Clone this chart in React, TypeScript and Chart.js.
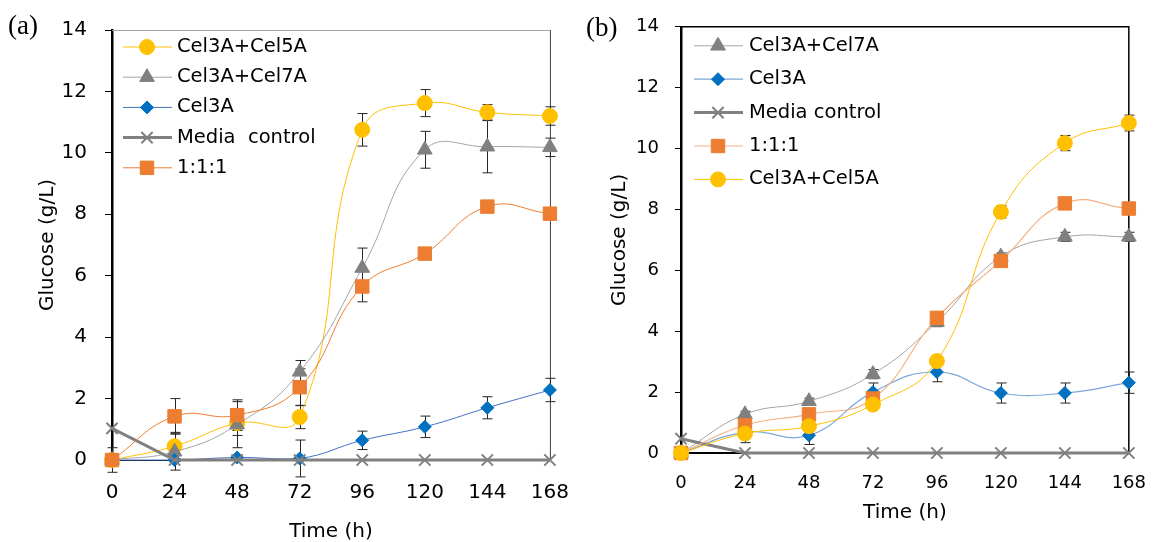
import React, { useEffect, useRef } from "react";
import { Chart, registerables } from "chart.js";
import { drawPoint } from "chart.js/helpers";

Chart.register(...registerables);

const FONT = "'DejaVu Sans', 'Noto Sans', sans-serif";

// ---- shared axes ----
const hours = [0, 24, 48, 72, 96, 120, 144, 168];
const glucoseTicks = [0, 2, 4, 6, 8, 10, 12, 14];

// ---- panel (a) ----
const aCel5A = [0, 0.45, 1.2, 1.4, 10.75, 11.62, 11.32, 11.2];
const aCel5AErr = [0.05, 0.45, 0.4, 0.38, 0.53, 0.44, 0.25, 0.3];
const aCel7A = [0, 0.27, 1.15, 2.87, 6.25, 10.1, 10.2, 10.18];
const aCel7AErr = [0.05, 0.6, 0.75, 0.37, 0.65, 0.6, 0.85, 0.3];
const aCel3A = [0, 0, 0.08, 0.05, 0.64, 1.08, 1.7, 2.28];
const aCel3AErr = [0.02, 0.05, 0.05, 0.6, 0.3, 0.35, 0.36, 0.38];
const aMedia = [1.03, 0, 0, 0, 0, 0, 0, 0];
const aMediaErr = [0, 0, 0, 0, 0, 0, 0, 0];
const aMix = [0, 1.42, 1.46, 2.37, 5.65, 6.72, 8.25, 8.02];
const aMixErr = [0.4, 0.58, 0.5, 0.6, 0.5, 0.1, 0.1, 0.1];

// ---- panel (b) ----
const bCel7A = [0, 1.27, 1.7, 2.59, 4.3, 6.45, 7.1, 7.1];
const bCel7AErr = [0.05, 0.1, 0.1, 0.15, 0.15, 0.12, 0.15, 0.15];
const bCel3A = [0, 0.68, 0.58, 2.0, 2.66, 1.97, 1.97, 2.31];
const bCel3AErr = [0.03, 0.1, 0.3, 0.3, 0.32, 0.33, 0.33, 0.35];
const bMedia = [0.47, 0, 0, 0, 0, 0, 0, 0];
const bMediaErr = [0, 0, 0, 0, 0, 0, 0, 0];
const bMix = [0, 0.91, 1.27, 1.79, 4.44, 6.31, 8.2, 8.03];
const bMixErr = [0.03, 0.1, 0.1, 0.15, 0.1, 0.1, 0.1, 0.1];
const bCel5A = [0, 0.64, 0.88, 1.59, 3.02, 7.92, 10.18, 10.84];
const bCel5AErr = [0.03, 0.3, 0.1, 0.1, 0.1, 0.2, 0.25, 0.26];

type Series = {
  label: string;
  values: number[];
  errors: number[];
  line: string;
  lineWidth: number;
  marker: string;
  style: string;
  radius: number;
  tension: number;
};

const seriesA: Series[] = [
  { label: "Cel3A+Cel5A", values: aCel5A, errors: aCel5AErr, line: "#FFC000", lineWidth: 1, marker: "#FFC000", style: "circle", radius: 7.5, tension: 0.45 },
  { label: "Cel3A+Cel7A", values: aCel7A, errors: aCel7AErr, line: "#A5A5A5", lineWidth: 1, marker: "#808080", style: "triangle", radius: 8.5, tension: 0.45 },
  { label: "Cel3A", values: aCel3A, errors: aCel3AErr, line: "#4472C4", lineWidth: 1, marker: "#0070C0", style: "rectRot", radius: 6.5, tension: 0.45 },
  { label: "Media  control", values: aMedia, errors: aMediaErr, line: "#808080", lineWidth: 3, marker: "#808080", style: "crossRot", radius: 8, tension: 0 },
  { label: "1:1:1", values: aMix, errors: aMixErr, line: "#ED7D31", lineWidth: 1, marker: "#ED7D31", style: "rect", radius: 9.5, tension: 0.45 },
];

const seriesB: Series[] = [
  { label: "Cel3A+Cel7A", values: bCel7A, errors: bCel7AErr, line: "#A5A5A5", lineWidth: 1, marker: "#808080", style: "triangle", radius: 8.5, tension: 0.45 },
  { label: "Cel3A", values: bCel3A, errors: bCel3AErr, line: "#7DA7D9", lineWidth: 1.2, marker: "#0070C0", style: "rectRot", radius: 6.5, tension: 0.45 },
  { label: "Media control", values: bMedia, errors: bMediaErr, line: "#808080", lineWidth: 3, marker: "#808080", style: "crossRot", radius: 8, tension: 0 },
  { label: "1:1:1", values: bMix, errors: bMixErr, line: "#F4B183", lineWidth: 1.2, marker: "#ED7D31", style: "rect", radius: 9.5, tension: 0.45 },
  { label: "Cel3A+Cel5A", values: bCel5A, errors: bCel5AErr, line: "#FFC000", lineWidth: 1, marker: "#FFC000", style: "circle", radius: 7.5, tension: 0.45 },
];

type PanelCfg = {
  left: number;
  width: number;
  padTop: number;
  padRight: number;
  yWidth: number;
  xHeight: number;
  tickFont: number;
  yTickPad: number;
  tickLen: number;
  xTickPad: number;
  yTitlePad: number;
  xTitlePadBottom: number;
  titleFont: number;
  legend: { lineX0: number; lineX1: number; markerX: number; textX: number; y0: number; dy: number; font: number };
  tag: string;
  tagX: number;
  tagY: number;
  frame: "open" | "box";
};

const cfgA: PanelCfg = {
  left: 0, width: 590, padTop: 22, padRight: 20, yWidth: 112, xHeight: 82,
  tickFont: 20, yTickPad: 18, tickLen: 7, xTickPad: 21, yTitlePad: 36, xTitlePadBottom: -2, titleFont: 20,
  legend: { lineX0: 11, lineX1: 60, markerX: 35, textX: 65, y0: 17, dy: 30.2, font: 19.5 },
  tag: "(a)", tagX: 8, tagY: 27, frame: "open",
};

const cfgB: PanelCfg = {
  left: 580, width: 586, padTop: 24, padRight: 21, yWidth: 101, xHeight: 89,
  tickFont: 18, yTickPad: 16, tickLen: 6, xTickPad: 20, yTitlePad: 28, xTitlePadBottom: 17, titleFont: 20,
  legend: { lineX0: 13, lineX1: 62, markerX: 37, textX: 68, y0: 19, dy: 33.4, font: 19.5 },
  tag: "(b)", tagX: 6, tagY: 29, frame: "box",
};

function Panel({ series, cfg }: { series: Series[]; cfg: PanelCfg }) {
  const ref = useRef<HTMLCanvasElement>(null);

  useEffect(() => {
    const canvas = ref.current!;
    const n = series.length;
    const datasets = series.map((s, i) => ({
      label: s.label,
      data: hours.map((h, j) => ({ x: h, y: s.values[j] })),
      borderColor: s.line,
      borderWidth: s.lineWidth,
      backgroundColor: s.marker,
      pointStyle: s.style,
      pointRadius: s.radius,
      pointHoverRadius: s.radius,
      pointBackgroundColor: s.marker,
      pointBorderColor: s.marker,
      pointBorderWidth: s.style === "crossRot" ? 2 : 1,
      tension: s.tension,
      fill: false,
      order: n - i,
      clip: false,
    }));

    const decor = {
      id: "decor",
      beforeDatasetsDraw(chart: any) {
        const ctx = chart.ctx as CanvasRenderingContext2D;
        const { left, right, top, bottom } = chart.chartArea;
        const xs = chart.scales.x;
        const ys = chart.scales.y;
        ctx.save();
        if (cfg.frame === "open") {
          ctx.lineWidth = 1;
          ctx.strokeStyle = "#A6A6A6";
          ctx.beginPath();
          ctx.moveTo(left, top + 0.5);
          ctx.lineTo(right, top + 0.5);
          ctx.stroke();
          ctx.strokeStyle = "#404040";
          ctx.beginPath();
          ctx.moveTo(right + 0.5, top);
          ctx.lineTo(right + 0.5, bottom);
          ctx.stroke();
        } else {
          ctx.lineWidth = 1.5;
          ctx.strokeStyle = "#000";
          ctx.beginPath();
          ctx.moveTo(left, top);
          ctx.lineTo(right, top);
          ctx.lineTo(right, bottom);
          ctx.stroke();
        }
        // error bars
        ctx.strokeStyle = "#262626";
        ctx.lineWidth = 1;
        series.forEach((s) => {
          s.values.forEach((v, j) => {
            const e = s.errors[j];
            if (!e) return;
            const x = Math.round(xs.getPixelForValue(hours[j])) + 0.5;
            const y1 = ys.getPixelForValue(v + e);
            const y2 = ys.getPixelForValue(v - e);
            ctx.beginPath();
            ctx.moveTo(x, y1);
            ctx.lineTo(x, y2);
            ctx.moveTo(x - 5, y1);
            ctx.lineTo(x + 5, y1);
            ctx.moveTo(x - 5, y2);
            ctx.lineTo(x + 5, y2);
            ctx.stroke();
          });
        });
        ctx.restore();
      },
      afterDraw(chart: any) {
        const ctx = chart.ctx as CanvasRenderingContext2D;
        const { left, top } = chart.chartArea;
        const L = cfg.legend;
        ctx.save();
        series.forEach((s, i) => {
          const y = top + L.y0 + i * L.dy;
          ctx.strokeStyle = s.line;
          ctx.lineWidth = s.lineWidth;
          ctx.beginPath();
          ctx.moveTo(left + L.lineX0, y);
          ctx.lineTo(left + L.lineX1, y);
          ctx.stroke();
          ctx.fillStyle = s.marker;
          ctx.strokeStyle = s.marker;
          ctx.lineWidth = s.style === "crossRot" ? 2 : 1;
          drawPoint(ctx, { pointStyle: s.style as any, radius: s.radius, rotation: 0, borderWidth: s.style === "crossRot" ? 2 : 1 }, left + L.markerX, y);
          ctx.fillStyle = "#000";
          ctx.font = `${L.font}px ${FONT}`;
          ctx.textBaseline = "middle";
          ctx.textAlign = "left";
          ctx.fillText(s.label, left + L.textX, y);
        });
        ctx.fillStyle = "#000";
        ctx.font = `27px 'Liberation Serif', 'DejaVu Serif', serif`;
        ctx.textBaseline = "middle";
        ctx.textAlign = "left";
        ctx.fillText(cfg.tag, cfg.tagX, cfg.tagY);
        ctx.restore();
      },
    };

    const chart = new Chart(canvas, {
      type: "line",
      data: { datasets: datasets as any },
      options: {
        responsive: false,
        animation: false,
        devicePixelRatio: 1,
        events: [],
        layout: { padding: { left: 0, right: cfg.padRight, top: cfg.padTop, bottom: 0 } },
        plugins: { legend: { display: false }, tooltip: { enabled: false } },
        scales: {
          x: {
            type: "linear",
            min: 0,
            max: 168,
            afterBuildTicks: (s: any) => {
              s.ticks = hours.map((v) => ({ value: v }));
            },
            afterFit: (s: any) => {
              s.height = cfg.xHeight;
            },
            ticks: {
              autoSkip: false,
              maxRotation: 0,
              padding: cfg.xTickPad,
              color: "#000",
              font: { family: FONT, size: cfg.tickFont },
            },
            grid: { display: true, drawOnChartArea: false, drawTicks: false },
            border: { display: true, color: "#000", width: cfg.frame === "box" ? 2 : 1 },
            title: {
              display: true,
              text: "Time (h)",
              color: "#000",
              font: { family: FONT, size: cfg.titleFont },
              padding: { top: 0, bottom: cfg.xTitlePadBottom },
            },
          },
          y: {
            type: "linear",
            min: 0,
            max: 14,
            afterBuildTicks: (s: any) => {
              s.ticks = glucoseTicks.map((v) => ({ value: v }));
            },
            afterFit: (s: any) => {
              s.width = cfg.yWidth;
            },
            ticks: {
              padding: cfg.yTickPad,
              color: "#000",
              font: { family: FONT, size: cfg.tickFont },
            },
            grid: {
              display: true,
              drawOnChartArea: false,
              drawTicks: true,
              tickLength: cfg.tickLen,
              tickColor: "#000",
              tickWidth: 1,
            },
            border: { display: true, color: "#000", width: 2.5 },
            title: {
              display: true,
              text: "Glucose (g/L)",
              color: "#000",
              font: { family: FONT, size: cfg.titleFont },
              padding: { top: cfg.yTitlePad, bottom: 0 },
            },
          },
        },
      } as any,
      plugins: [decor],
    });
    return () => chart.destroy();
  }, [series, cfg]);

  return (
    <canvas
      ref={ref}
      width={cfg.width}
      height={542}
      style={{ position: "absolute", left: cfg.left, top: 0, width: cfg.width, height: 542 }}
    />
  );
}

export default function App() {
  return (
    <div style={{ position: "absolute", left: 0, top: 0, width: 1166, height: 542, background: "#fff", overflow: "hidden" }}>
      <Panel series={seriesA} cfg={cfgA} />
      <Panel series={seriesB} cfg={cfgB} />
    </div>
  );
}
